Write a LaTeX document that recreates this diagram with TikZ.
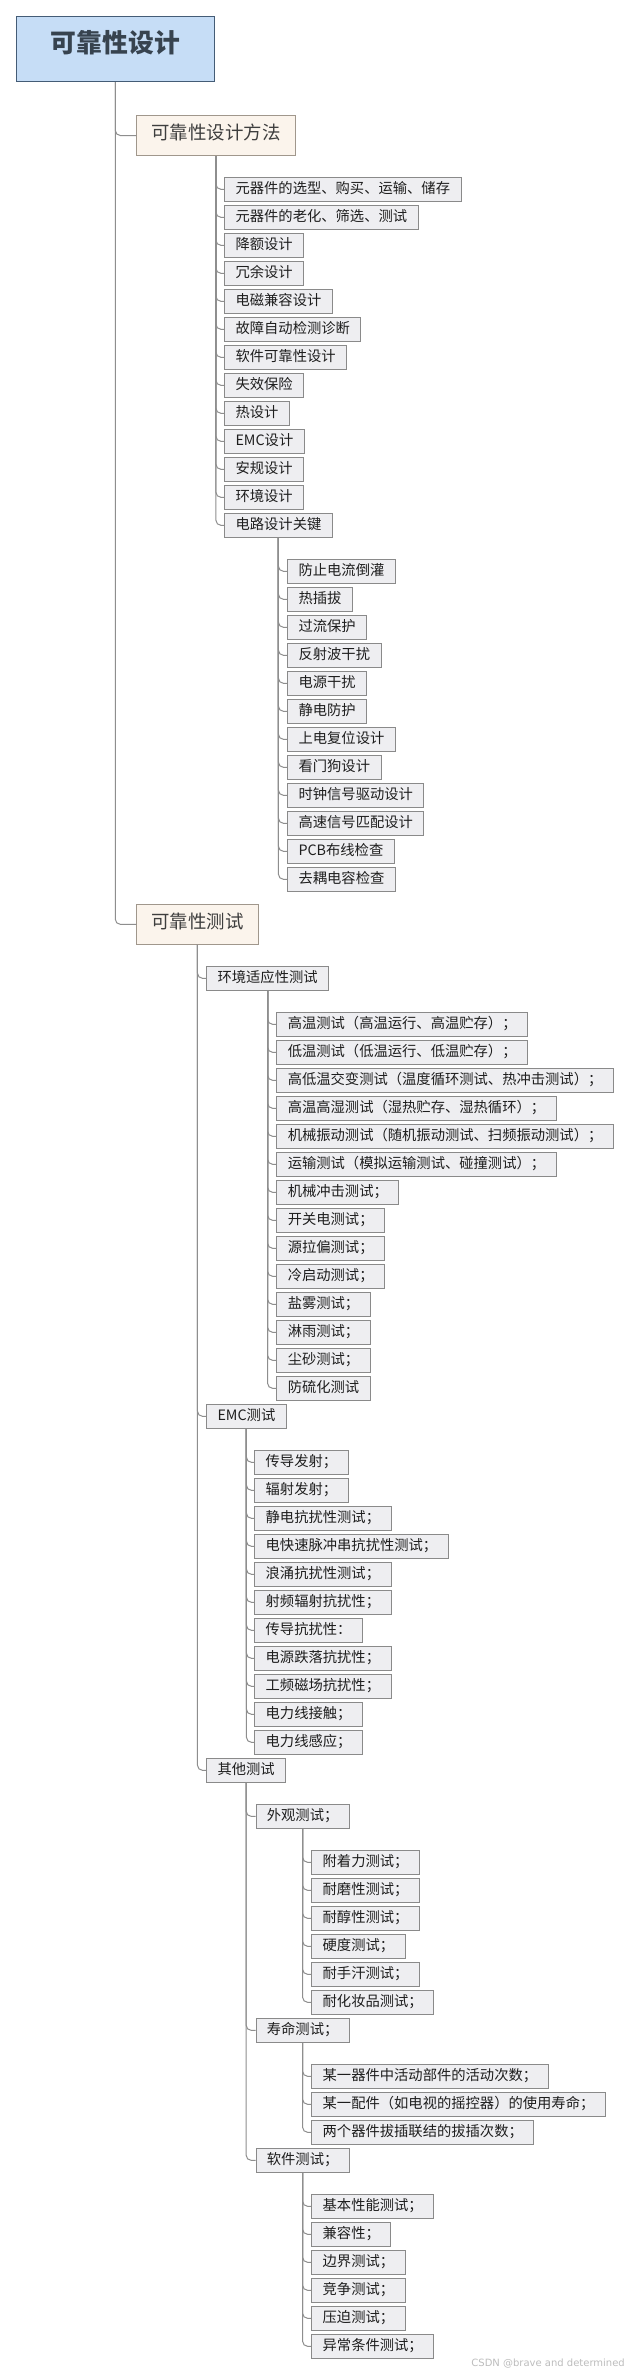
\documentclass[tikz,border=0pt]{standalone}
\usepackage{fontspec}
\setmainfont{Noto Sans CJK SC}
\newfontfamily\wmfont{DejaVu Sans}
\definecolor{rootfill}{HTML}{C6DDF6}
\definecolor{rootline}{HTML}{445C76}
\definecolor{roottext}{HTML}{37434F}
\definecolor{headfill}{HTML}{FBF4EC}
\definecolor{headline}{HTML}{A0978C}
\definecolor{headtext}{HTML}{3E3E3E}
\definecolor{itemfill}{HTML}{EEEEF1}
\definecolor{itemline}{HTML}{8A8A8A}
\definecolor{itemtext}{HTML}{1E1E1E}
\definecolor{connline}{HTML}{8E8E8E}
\definecolor{wmtext}{HTML}{BDBDBD}
\begin{document}
\begin{tikzpicture}[x=1pt,y=-1pt,
  rootbox/.style={draw=rootline, fill=rootfill, line width=1pt, minimum width=198.6pt, minimum height=65.7pt,
    inner sep=0pt, text height=0.88em, text depth=0.12em, text=roottext,
    font=\fontsize{25.8}{28}\selectfont\bfseries},
  head/.style={draw=headline, fill=headfill, line width=0.9pt, anchor=west, minimum height=40.4pt,
    inner xsep=14.5pt, inner ysep=0pt, text height=0.88em, text depth=0.12em, text=headtext,
    font=\fontsize{18.45}{20}\selectfont},
  item/.style={draw=itemline, fill=itemfill, line width=0.9pt, anchor=west, minimum height=24pt,
    inner xsep=10.9pt, inner ysep=0pt, text height=0.88em, text depth=0.12em, text=itemtext,
    font=\fontsize{14.3}{16}\selectfont},
  conn/.style={draw=connline, line width=1pt, rounded corners=5pt},
  wm/.style={text=wmtext, inner sep=0pt, font=\wmfont\fontsize{10}{12}\selectfont}]
\fill[white] (0,0) rectangle (629,2375);
\useasboundingbox (0,0) rectangle (629,2375);

% root
\node[rootbox] (root) at (115.3,48.85) {可靠性设计};

% level 1
\node[head] (meth) at (136.4,135.5) {可靠性设计方法};
\node[head] (test) at (136.4,924.3) {可靠性测试};
\draw[conn] (root.south) |- (meth.west);
\draw[conn] (root.south) |- (test.west);

% methods
\foreach \t [count=\i from 0] in {元器件的选型、购买、运输、储存, 元器件的老化、筛选、测试, 降额设计, 冗余设计, 电磁兼容设计, 故障自动检测诊断, 软件可靠性设计, 失效保险, 热设计, EMC设计, 安规设计, 环境设计, 电路设计关键}{
  \node[item] (m\i) at (224.2,{189.3+28*\i}) {\t};
  \draw[conn] (meth.south) |- (m\i.west);
}

% circuit design keys
\foreach \t [count=\i from 0] in {防止电流倒灌, 热插拔, 过流保护, 反射波干扰, 电源干扰, 静电防护, 上电复位设计, 看门狗设计, 时钟信号驱动设计, 高速信号匹配设计, PCB布线检查, 去耦电容检查}{
  \node[item] (c\i) at (287.2,{571.3+28*\i}) {\t};
  \draw[conn] (m12.south) |- (c\i.west);
}

% test groups
\node[item] (env) at (206.2,978.3) {环境适应性测试};
\node[item] (emc) at (206.2,1416.3) {EMC测试};
\node[item] (oth) at (206.2,1770.3) {其他测试};
\draw[conn] (test.south) |- (env.west);
\draw[conn] (test.south) |- (emc.west);
\draw[conn] (test.south) |- (oth.west);

\foreach \t [count=\i from 0] in {高温测试（高温运行、高温贮存）；, 低温测试（低温运行、低温贮存）；, 高低温交变测试（温度循环测试、热冲击测试）；, 高温高湿测试（湿热贮存、湿热循环）；, 机械振动测试（随机振动测试、扫频振动测试）；, 运输测试（模拟运输测试、碰撞测试）；, 机械冲击测试；, 开关电测试；, 源拉偏测试；, 冷启动测试；, 盐雾测试；, 淋雨测试；, 尘砂测试；, 防硫化测试}{
  \node[item] (e\i) at (276.4,{1024.3+28*\i}) {\t};
  \draw[conn] (env.south) |- (e\i.west);
}

\foreach \t [count=\i from 0] in {传导发射；, 辐射发射；, 静电抗扰性测试；, 电快速脉冲串抗扰性测试；, 浪涌抗扰性测试；, 射频辐射抗扰性；, 传导抗扰性：, 电源跌落抗扰性；, 工频磁场抗扰性；, 电力线接触；, 电力线感应；}{
  \node[item] (k\i) at (254.3,{1462.3+28*\i}) {\t};
  \draw[conn] (emc.south) |- (k\i.west);
}

% other tests
\node[item] (look) at (255.5,1816.3) {外观测试；};
\node[item] (life) at (255.5,2030.3) {寿命测试；};
\node[item] (soft) at (255.5,2160.3) {软件测试；};
\draw[conn] (oth.south) |- (look.west);
\draw[conn] (oth.south) |- (life.west);
\draw[conn] (oth.south) |- (soft.west);

\foreach \t [count=\i from 0] in {附着力测试；, 耐磨性测试；, 耐醇性测试；, 硬度测试；, 耐手汗测试；, 耐化妆品测试；}{
  \node[item] (a\i) at (311.3,{1862.3+28*\i}) {\t};
  \draw[conn] (look.south) |- (a\i.west);
}

\foreach \t [count=\i from 0] in {某一器件中活动部件的活动次数；, 某一配件（如电视的摇控器）的使用寿命；, 两个器件拔插联结的拔插次数；}{
  \node[item] (l\i) at (311.3,{2076.3+28*\i}) {\t};
  \draw[conn] (life.south) |- (l\i.west);
}

\foreach \t [count=\i from 0] in {基本性能测试；, 兼容性；, 边界测试；, 竞争测试；, 压迫测试；, 异常条件测试；}{
  \node[item] (s\i) at (311.3,{2206.3+28*\i}) {\t};
  \draw[conn] (soft.south) |- (s\i.west);
}

% watermark
\node[wm, anchor=east] (mark) at (625,2364) {CSDN @brave and determined};
\end{tikzpicture}
\end{document}
